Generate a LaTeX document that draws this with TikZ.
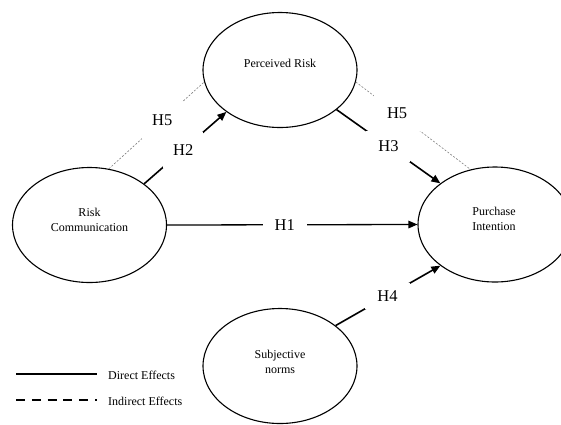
\documentclass[tikz,border=0pt]{standalone}
\usepackage{fontspec}
\setmainfont{Liberation Serif}
\usetikzlibrary{arrows.meta,shapes.geometric}
\begin{document}
\begin{tikzpicture}[x=1pt,y=-1pt,
  construct/.style={ellipse, draw, line width=1.1pt, minimum width=154pt, minimum height=115pt, inner sep=0pt},
  ctext/.style={font=\fontsize{12}{15}\selectfont, align=center, inner sep=0pt},
  direct/.style={line width=1.6pt, -{Triangle[length=9pt,width=7.5pt]}},
  directh/.style={line width=1.3pt, -{Triangle[length=9pt,width=7.5pt]}},
  indirect/.style={line width=0.6pt, gray, dash pattern=on 2pt off 1.6pt},
  gap/.style={fill=white, text=black, inner sep=0pt, font=\fontsize{16.5}{18}\selectfont},
  legtext/.style={font=\fontsize{12}{14}\selectfont, anchor=west, inner sep=0pt}]
\useasboundingbox (0,0) rectangle (561,424);
% constructs
\node[construct] (pr) at (280,70) {};
\node[construct] (rc) at (89.5,225) {};
\node[construct] (pi) at (495,224.5) {};
\node[construct] (sn) at (280,366) {};
\node[ctext] (prt) at (280,63) {Perceived Risk};
\node[ctext] (rct) at (89.5,219.5) {Risk\\Communication};
\node[ctext] (pit) at (494,219) {Purchase\\Intention};
\node[ctext] (snt) at (280,361.5) {Subjective\\norms};
% indirect effects
\draw[indirect] (rc.71.4) -- node[gap, pos=0.56, minimum width=41pt, minimum height=37pt] {H5} (pr.189);
\draw[indirect] (pr.-9) -- node[gap, pos=0.36, minimum width=47pt, minimum height=36pt] {H5} (pi.114);
% direct effects
\draw[directh] (rc.east) -- node[gap, pos=0.47, minimum width=44pt, minimum height=18pt] {H1} (pi.west);
\draw[direct] (rc.37.6) -- node[gap, pos=0.475, minimum width=40pt, minimum height=36pt] {H2} (pr.218);
\draw[direct] (pr.-35.5) -- node[gap, pos=0.5, minimum width=44pt, minimum height=31pt] {H3} (pi.143);
\draw[direct] (sn.36) -- node[gap, pos=0.495, minimum width=45pt, minimum height=26pt] {H4} (pi.217);
% legend
\coordinate (l1a) at (16,374);
\coordinate (l1b) at (97,374);
\coordinate (l2a) at (16,400);
\coordinate (l2b) at (97,400);
\draw[line width=1.3pt] (l1a) -- (l1b);
\draw[line width=2pt, dash pattern=on 9pt off 6.8pt] (l2a) -- (l2b);
\node[legtext] (l1t) at (108,375) {Direct Effects};
\node[legtext] (l2t) at (108,401) {Indirect Effects};
\end{tikzpicture}
\end{document}
